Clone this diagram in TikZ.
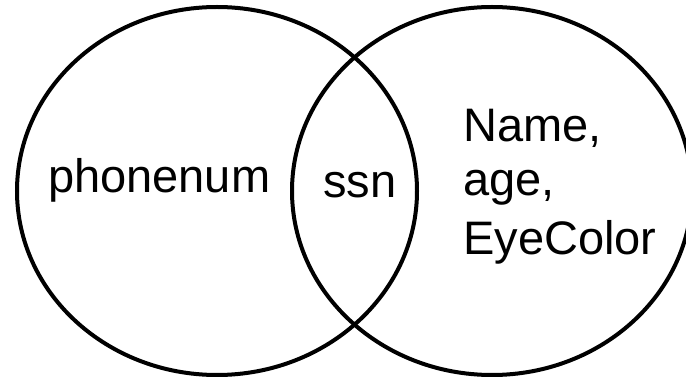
\documentclass[tikz,border=0pt]{standalone}
\usepackage{fontspec}
\setmainfont{Liberation Sans}
\usetikzlibrary{shapes.geometric}
\tikzset{
  setring/.style={draw=black, line width=4pt, ellipse, inner sep=0pt,
    minimum width=400pt, minimum height=368pt},
  lbl/.style={font=\fontsize{47}{56}\selectfont, inner sep=0pt, anchor=base west}
}
\begin{document}
\begin{tikzpicture}[x=1pt,y=-1pt]
\useasboundingbox (0,0) rectangle (686,379);
\clip (0,0) rectangle (686,379);
\fill[white] (0,0) rectangle (686,379);
\node[setring] (left) at (217,191) {};
\node[setring] (right) at (492,191) {};
\node[lbl] (phone) at (48,193) {phonenum};
\node[lbl] (ssn) at (323,198) {ssn};
\node[lbl] (name) at (463,142) {Name,};
\node[lbl] (age) at (463,196) {age,};
\node[lbl] (eye) at (463,255) {EyeColor};
\end{tikzpicture}
\end{document}
